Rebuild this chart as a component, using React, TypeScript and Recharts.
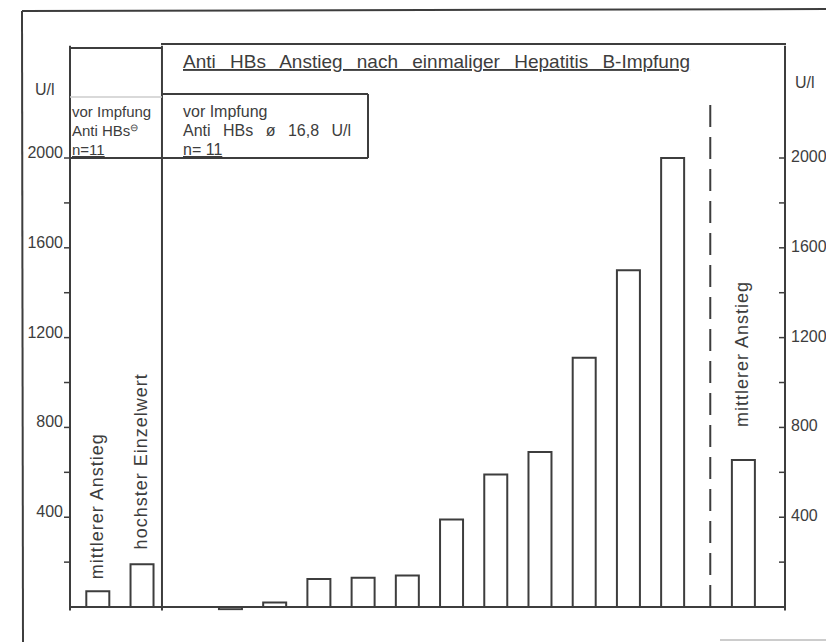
import React from 'react';
import { ComposedChart, Bar, XAxis, YAxis, ReferenceLine, LabelList } from 'recharts';

// slot of each bar along the axis (left panel, main panel, right panel)
const positions = [0, 1, 3, 4, 5, 6, 7, 8, 9, 10, 11, 12, 13, 14.6];
// Anti-HBs increase, U/l
const increases = [70, 190, -10, 20, 125, 130, 140, 390, 590, 690, 1110, 1500, 2000, 655];
const notes = [
  'mittlerer Anstieg', 'hochster Einzelwert',
  '', '', '', '', '', '', '', '', '', '', '',
  'mittlerer Anstieg',
];
const yTicks = [200, 400, 600, 800, 1000, 1200, 1400, 1600, 1800, 2000];
const labelledTicks = [400, 800, 1200, 1600, 2000];

const data = positions.map((pos, i) => ({ pos, value: increases[i], note: notes[i] }));

const INK = '#3d3d3d';
const FONT = '"Liberation Sans", Arial, sans-serif';
const noteGap: Record<number, number> = { 0: 12, 1: 15, 13: 33 };

const LeftTick = ({ x, y, payload }: any) => (
  <g>
    <line x1={x - 6} y1={y} x2={x} y2={y} stroke={INK} strokeWidth={1.5} />
    {labelledTicks.includes(payload.value) && (
      <text x={x - 7} y={y} textAnchor="end" fontSize={16} fill={INK} fontFamily={FONT}>
        {payload.value}
      </text>
    )}
  </g>
);

const RightTick = ({ x, y, payload }: any) => (
  <g>
    <line x1={x - 6} y1={y} x2={x} y2={y} stroke={INK} strokeWidth={1.5} />
    {labelledTicks.includes(payload.value) && (
      <text x={x + 6} y={y + 4} textAnchor="start" fontSize={16} fill={INK} fontFamily={FONT}>
        {payload.value}
      </text>
    )}
  </g>
);

const renderNote = (props: any) => {
  const { x, y, width, value, index } = props;
  if (!value) return null;
  const cx = x + width / 2 + 5;
  const cy = y - (noteGap[index] ?? 14);
  return (
    <text
      x={cx}
      y={cy}
      transform={`rotate(-90 ${cx} ${cy})`}
      fontSize={18}
      letterSpacing={1}
      fill={INK}
      fontFamily={FONT}
    >
      {value}
    </text>
  );
};

const App: React.FC = () => {
  return (
    <div style={{ position: 'absolute', left: 0, top: 0, width: 826, height: 642, background: '#fff' }}>
      <ComposedChart
        width={826}
        height={642}
        data={data}
        margin={{ top: 45.75, right: 0, bottom: 31.6, left: 0 }}
      >
        <XAxis type="number" dataKey="pos" domain={[-0.62, 15.55]} hide />
        <YAxis
          yAxisId="l"
          orientation="left"
          width={70}
          domain={[-15, 2500]}
          allowDataOverflow
          ticks={yTicks}
          interval={0}
          tick={LeftTick}
          tickLine={false}
          tickSize={0}
          tickMargin={0}
          axisLine={{ stroke: INK, strokeWidth: 2 }}
        />
        <YAxis
          yAxisId="r"
          orientation="right"
          width={41}
          domain={[-15, 2500]}
          allowDataOverflow
          ticks={yTicks}
          interval={0}
          tick={RightTick}
          tickLine={false}
          tickSize={0}
          tickMargin={0}
          axisLine={{ stroke: INK, strokeWidth: 2 }}
        />
        <ReferenceLine yAxisId="l" y={0} stroke={INK} strokeWidth={2} />
        <ReferenceLine
          yAxisId="l"
          segment={[{ x: 13.86, y: 0 }, { x: 13.86, y: 2280 }]}
          stroke={INK}
          strokeWidth={2}
          strokeDasharray="22 10"
        />
        <ReferenceLine yAxisId="l" x={1.46} stroke={INK} strokeWidth={2} />
        <Bar yAxisId="l" dataKey="value" barSize={23} fill="#fff" stroke={INK} strokeWidth={2} isAnimationActive={false}>
          <LabelList dataKey="note" content={renderNote} />
        </Bar>
      </ComposedChart>

      <svg width={826} height={642} style={{ position: 'absolute', left: 0, top: 0, pointerEvents: 'none' }}>
        {/* outer frame */}
        <line x1={22} y1={11} x2={826} y2={9} stroke={INK} strokeWidth={2} />
        <line x1={22} y1={11} x2={23} y2={642} stroke={INK} strokeWidth={2} />
        <line x1={720} y1={640} x2={826} y2={640} stroke="#bbb" strokeWidth={1.5} />
        {/* panel boxes */}
        <line x1={70} y1={48} x2={162} y2={48} stroke={INK} strokeWidth={2} />
        <line x1={161} y1={44} x2={786} y2={44} stroke={INK} strokeWidth={2} />
        <line x1={70} y1={97} x2={162} y2={97} stroke="#ccc" strokeWidth={1.5} />
        <line x1={162} y1={94} x2={368} y2={94} stroke={INK} strokeWidth={2} />
        <line x1={368} y1={94} x2={368} y2={158} stroke={INK} strokeWidth={2} />
        <line x1={70} y1={158} x2={368} y2={158} stroke={INK} strokeWidth={2} />

        <g fontFamily={FONT} fill={INK}>
          <text x={183} y={68} fontSize={19} wordSpacing={9} textDecoration="underline">
            Anti HBs Anstieg nach einmaliger Hepatitis B-Impfung
          </text>
          <text x={35} y={95} fontSize={16}>U/l</text>
          <text x={795} y={88} fontSize={16}>U/l</text>

          <text x={72} y={117} fontSize={15}>vor Impfung</text>
          <text x={72} y={136} fontSize={15}>
            Anti HBs<tspan fontSize={10} dy={-5}>⊖</tspan>
          </text>
          <text x={72} y={155} fontSize={15} textDecoration="underline">n=11</text>

          <text x={183} y={117} fontSize={16}>vor Impfung</text>
          <text x={183} y={136} fontSize={16} wordSpacing={8}>Anti HBs ø 16,8 U/l</text>
          <text x={183} y={155} fontSize={16} textDecoration="underline">n= 11</text>
        </g>
      </svg>
    </div>
  );
};

export default App;
